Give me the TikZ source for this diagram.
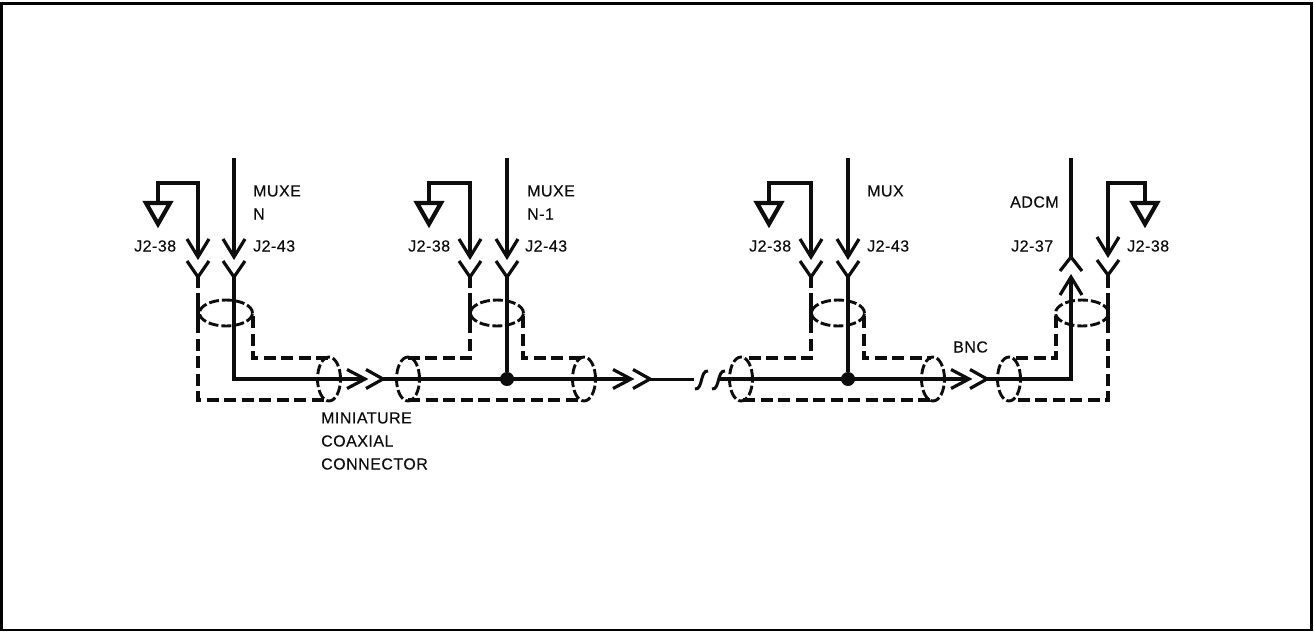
\documentclass[tikz,border=0pt]{standalone}
\usepackage{fontspec}
\setmainfont[LetterSpace=3,FakeBold=0.35]{Liberation Sans}
\usetikzlibrary{shapes.geometric,calc}
\tikzset{
  x=1pt,y=-1pt,
  ink/.style={black!95},
  sig/.style={ink,line width=3.8pt,line join=miter},
  thin sig/.style={ink,line width=3pt},
  shield/.style={ink,line width=3.2pt,dash pattern=on 12pt off 5.5pt},
  tip/.style={ink,line width=3.2pt,line join=miter},
  gnd/.style={ink,line width=4.2pt,line join=miter},
  ringh/.style={ellipse,draw=black!95,line width=2.9pt,dash pattern=on 10pt off 3pt,minimum width=53pt,minimum height=26pt,inner sep=0pt},
  ringv/.style={ellipse,draw=black!95,line width=2.9pt,dash pattern=on 10pt off 3pt,minimum width=23pt,minimum height=44pt,inner sep=0pt},
  dot/.style={circle,fill=black!95,minimum size=14pt,inner sep=0pt},
  lbl/.style={anchor=west,inner sep=0pt,font=\fontsize{16}{18}\selectfont,text=black!95}
}
% name, ground x, left x, signal x
\newcommand{\pinpair}[4]{%
  \coordinate (#1gt) at (#3,183);
  \coordinate (#1gl) at (#2,183);
  \coordinate (#1gb) at (#2,203);
  \coordinate (#1t1) at (#2-12,203);
  \coordinate (#1t2) at (#2+12,203);
  \coordinate (#1t3) at (#2,224);
  \coordinate (#1a) at (#3,257);
  \coordinate (#1b) at (#4,257);
  \coordinate (#1st) at (#4,158);
  \draw[gnd] (#1a) -- (#1gt) -- (#1gl) -- (#1gb);
  \draw[gnd] (#1t1) -- (#1t2) -- (#1t3) -- cycle;
  \draw[sig] (#1st) -- (#1b);
  \draw[tip] ($(#1a)+(-11,-18)$) -- (#1a) -- ($(#1a)+(11,-18)$);
  \draw[tip] ($(#1b)+(-11,-18)$) -- (#1b) -- ($(#1b)+(11,-18)$);
  \coordinate (#1ya) at (#3,277);
  \coordinate (#1yb) at (#4,277);
  \coordinate (#1sa) at (#3,288);
  \coordinate (#1da) at (#3,293);
  \coordinate (#1db) at (#3,321);
  \draw[tip] ($(#1ya)+(-11,-16)$) -- (#1ya) -- ($(#1ya)+(11,-16)$);
  \draw[tip] ($(#1yb)+(-11,-16)$) -- (#1yb) -- ($(#1yb)+(11,-16)$);
  \draw[sig] (#1ya) -- (#1sa);
  \draw[sig] (#1da) -- (#1db);
}
% double chevron: name, x of first tip, x of second tip
\newcommand{\coax}[3]{%
  \coordinate (#1p) at (#2,379);
  \coordinate (#1q) at (#3,379);
  \draw[tip] ($(#1p)+(-18,-9.5)$) -- (#1p) -- ($(#1p)+(-18,9.5)$);
  \draw[tip] ($(#1q)+(-17,-9.5)$) -- (#1q) -- ($(#1q)+(-17,9.5)$);
}
\begin{document}
\begin{tikzpicture}
\useasboundingbox (0,0) rectangle (1314,632);
\draw[black,line width=2.4pt] (1.5,3.5) rectangle (1311.5,630);

% ---------- MUXE N
\pinpair{A}{158}{198}{234}
\node[ringh] (Ar) at (226,313) {};
\node[ringv] (Ae) at (329,379) {};
\coax{Ac}{365}{383}
\coordinate (Ab) at (234,379);
\coordinate (Ar1) at (253,316);
\coordinate (Ar2) at (253,358);
\coordinate (Ar3) at (328,358);
\coordinate (Ab1) at (198,400);
\coordinate (Ab2) at (328,400);
\draw[sig] (Ayb) -- (Ab) -- (Acp);
\draw[shield] (Adb) -- (Ab1) -- (Ab2);
\draw[shield] (Ar1) -- (Ar2) -- (Ar3);

% ---------- MUXE N-1
\pinpair{B}{429}{470}{507}
\node[ringh] (Br) at (497,313) {};
\node[ringv] (Be) at (408,379) {};
\node[ringv] (Bf) at (584,379) {};
\coax{Bc}{631}{650}
\node[dot] (Bd) at (507,379) {};
\coordinate (Br1) at (523,316);
\coordinate (Br2) at (523,358);
\coordinate (Br3) at (582,358);
\coordinate (Bl1) at (470,358);
\coordinate (Bl2) at (408,358);
\coordinate (Bb1) at (408,400);
\coordinate (Bb2) at (582,400);
\draw[sig] (Byb) -- (Bd);
\draw[sig] (Acq) -- (Bcp);
\draw[shield] (Bdb) -- (Bl1) -- (Bl2);
\draw[shield] (Br1) -- (Br2) -- (Br3);
\draw[shield] (Bb1) -- (Bb2);

% ---------- break
\coordinate (Z1) at (694,379);
\coordinate (Z2) at (719,379);
\draw[thin sig] (Bcq) -- (Z1);
\draw[thin sig] (695,389) .. controls (703,390) and (700,370) .. (708,371);
\draw[thin sig] (712,389) .. controls (720,390) and (717,370) .. (725,371);

% ---------- MUX
\pinpair{C}{769}{811}{848}
\node[ringh] (Cr) at (838,313) {};
\node[ringv] (Ce) at (741,379) {};
\node[ringv] (Cf) at (933,379) {};
\coax{Cc}{969}{987}
\node[dot] (Cd) at (848,379) {};
\coordinate (Cr1) at (864,316);
\coordinate (Cr2) at (864,358);
\coordinate (Cr3) at (931,358);
\coordinate (Cl1) at (811,358);
\coordinate (Cl2) at (743,358);
\coordinate (Cb1) at (743,400);
\coordinate (Cb2) at (931,400);
\draw[sig] (Cyb) -- (Cd);
\draw[sig] (Z2) -- (Ccp);
\draw[shield] (Cdb) -- (Cl1) -- (Cl2);
\draw[shield] (Cr1) -- (Cr2) -- (Cr3);
\draw[shield] (Cb1) -- (Cb2);

% ---------- ADCM
\coordinate (Dst) at (1071,158);
\coordinate (Dsy) at (1071,257);
\coordinate (Dt) at (1071,277);
\coordinate (Dc) at (1071,379);
\draw[sig] (Dst) -- (Dsy);
\draw[tip] (1060,271) -- (Dsy) -- (1082,271);
\draw[tip] (1060,295) -- (Dt) -- (1082,295);
\draw[sig] (Ccq) -- (Dc) -- (Dt);
\coordinate (Dgt) at (1108,183);
\coordinate (Dgr) at (1145,183);
\coordinate (Dgb) at (1145,203);
\coordinate (Da) at (1108,255);
\draw[gnd] (Da) -- (Dgt) -- (Dgr) -- (Dgb);
\draw[gnd] (1133,203) -- (1157,203) -- (1145,224) -- cycle;
\draw[tip] (1097,237) -- (Da) -- (1119,237);
\coordinate (Dy) at (1108,275);
\coordinate (Ds) at (1108,288);
\coordinate (Dd) at (1108,293);
\coordinate (Dn) at (1108,321);
\draw[tip] (1097,260) -- (Dy) -- (1119,260);
\draw[sig] (Dy) -- (Ds);
\draw[sig] (Dd) -- (Dn);
\node[ringh] (Dr) at (1082,313) {};
\node[ringv] (De) at (1009,379) {};
\coordinate (Dr1) at (1056,316);
\coordinate (Dr2) at (1056,358);
\coordinate (Dr3) at (1012,358);
\coordinate (Db1) at (1108,400);
\coordinate (Db2) at (1012,400);
\draw[shield] (Dn) -- (Db1) -- (Db2);
\draw[shield] (Dr1) -- (Dr2) -- (Dr3);

% ---------- labels
\node[lbl] (l1) at (253,191) {MUXE};
\node[lbl] (l2) at (253,214) {N};
\node[lbl] (l3) at (134,246) {J2-38};
\node[lbl] (l4) at (253,246) {J2-43};
\node[lbl] (l5) at (321,418) {MINIATURE};
\node[lbl] (l6) at (321,441) {COAXIAL};
\node[lbl] (l7) at (321,464) {CONNECTOR};
\node[lbl] (l8) at (527,191) {MUXE};
\node[lbl] (l9) at (527,214) {N-1};
\node[lbl] (l10) at (408,246) {J2-38};
\node[lbl] (l11) at (525,246) {J2-43};
\node[lbl] (l12) at (867,191) {MUX};
\node[lbl] (l13) at (749,246) {J2-38};
\node[lbl] (l14) at (867,246) {J2-43};
\node[lbl] (l15) at (953,347) {BNC};
\node[lbl] (l16) at (1010,202) {ADCM};
\node[lbl] (l17) at (1011,246) {J2-37};
\node[lbl] (l18) at (1127,246) {J2-38};
\end{tikzpicture}
\end{document}
